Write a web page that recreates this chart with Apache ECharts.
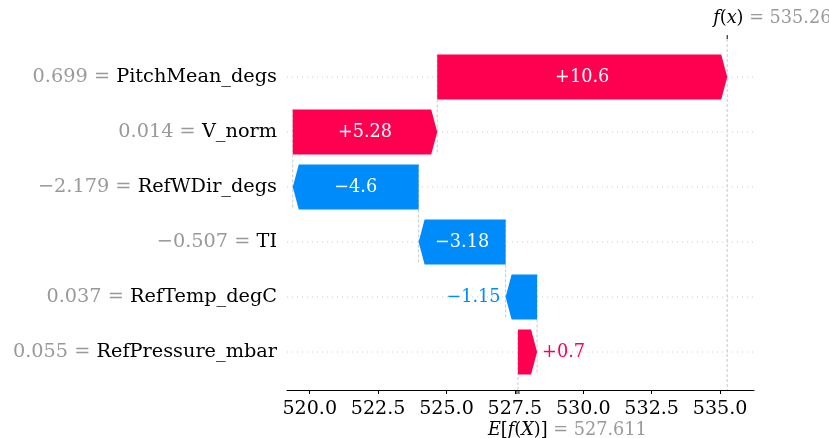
<!DOCTYPE html>
<html><head><meta charset="utf-8">
<script src="https://cdn.jsdelivr.net/npm/echarts@6/dist/echarts.min.js"></script>
<style>html,body{margin:0;padding:0;background:#fff}#c{width:829px;height:438px}</style>
</head><body><div id="c"></div>
<script>
// ---- data ----
const featureNames = ['PitchMean_degs', 'V_norm', 'RefWDir_degs', 'TI', 'RefTemp_degC', 'RefPressure_mbar'];
const featureValues = ['0.699', '0.014', '\u22122.179', '\u22120.507', '0.037', '0.055'];
const shapValues = [10.6, 5.28, -4.6, -3.18, -1.15, 0.7];
const baseValue = 527.611;
const fxValue = 535.26;
const xTicks = [520.0, 522.5, 525.0, 527.5, 530.0, 532.5, 535.0];

// ---- derived cumulative positions (bottom row first) ----
const starts = new Array(shapValues.length), ends = new Array(shapValues.length);
let run = baseValue;
for (let i = shapValues.length - 1; i >= 0; i--) { starts[i] = run; ends[i] = run + shapValues[i]; run = ends[i]; }

const FONT = 'DejaVu Serif';
const RED = '#ff0051', BLUE = '#008bfb';
const BAR_FS = 17.7, TICK_FS = 19.1, LAB_FS = 19.3, NOTE_FS = 17.7;
const cv = document.createElement('canvas').getContext('2d');
cv.font = BAR_FS + 'px "' + FONT + '"';
function measure(t) { return cv.measureText(t).width; }
const nRows = featureNames.length;
const rowIdx = featureNames.map((_, i) => i);

const chart = echarts.init(document.getElementById('c'), null, { renderer: 'canvas' });

function renderGuides(params, api) {
  const cs = params.coordSys;
  const children = [];
  for (let i = 0; i < nRows; i++) {
    const y = api.coord([0, i])[1];
    children.push({ type: 'line', shape: { x1: cs.x, y1: y, x2: cs.x + cs.width, y2: y },
      style: { stroke: '#cccccc', lineWidth: 1, lineDash: [1, 4] } });
  }
  for (let i = 0; i < nRows - 1; i++) {
    const x = starts[i];
    const a = api.coord([x, i - 0.41]), b = api.coord([x, i + 1 + 0.41]);
    children.push({ type: 'line', shape: { x1: a[0], y1: a[1], x2: b[0], y2: b[1] },
      style: { stroke: '#bbbbbb', lineWidth: 0.8, lineDash: [3, 2] } });
  }
  const bx = api.coord([baseValue, 0])[0];
  children.push({ type: 'line', shape: { x1: bx, y1: cs.y + cs.height, x2: bx, y2: cs.y + cs.height * (1 - 1 / nRows) },
    style: { stroke: '#bbbbbb', lineWidth: 0.8, lineDash: [3, 2] } });
  const fx = api.coord([fxValue, 0])[0];
  children.push({ type: 'line', shape: { x1: fx, y1: cs.y, x2: fx, y2: cs.y + cs.height },
    style: { stroke: '#bbbbbb', lineWidth: 0.8, lineDash: [3, 2] } });
  return { type: 'group', children };
}

function renderBar(params, api) {
  const i = api.value(0), s = api.value(1), e = api.value(2);
  const p0 = api.coord([s, i]), p1 = api.coord([e, i]);
  const cy = p0[1];
  const half = Math.abs(api.coord([s, i + 0.41])[1] - cy);
  const dir = e >= s ? 1 : -1;
  const w = Math.abs(p1[0] - p0[0]);
  const head = Math.min(6, w);
  const xs = p0[0], xe = p1[0], xb = xe - dir * head;
  const pts = [[xs, cy - half], [xb, cy - half], [xe, cy], [xb, cy + half], [xs, cy + half]];
  const color = dir > 0 ? RED : BLUE;
  const v = shapValues[i];
  const txt = (v > 0 ? '+' : '\u2212') + Math.abs(v);
  const tw = measure(txt);
  let tstyle;
  if (tw + 10 < w) {
    tstyle = { x: (xs + xe) / 2, y: cy, text: txt, fill: '#ffffff', align: 'center', verticalAlign: 'middle', fontFamily: FONT, fontSize: BAR_FS };
  } else {
    tstyle = { x: xe + dir * 5, y: cy, text: txt, fill: color, align: dir > 0 ? 'left' : 'right', verticalAlign: 'middle', fontFamily: FONT, fontSize: BAR_FS };
  }
  return { type: 'group', children: [
    { type: 'polygon', shape: { points: pts }, style: { fill: color } },
    { type: 'text', style: tstyle }
  ] };
}

function renderNotes(params, api) {
  const cs = params.coordSys;
  const fx = api.coord([fxValue, 0])[0];
  const bx = api.coord([baseValue, 0])[0];
  const yb = cs.y + cs.height;
  const rich = {
    i: { fontFamily: FONT, fontStyle: 'italic', fontSize: NOTE_FS, fill: '#000' },
    r: { fontFamily: FONT, fontSize: NOTE_FS, fill: '#000' },
    g: { fontFamily: FONT, fontSize: NOTE_FS, fill: '#999999' }
  };
  return { type: 'group', children: [
    { type: 'line', shape: { x1: fx, y1: cs.y, x2: fx, y2: cs.y - 4 }, style: { stroke: '#000', lineWidth: 1 } },
    { type: 'line', shape: { x1: bx - 1, y1: yb, x2: bx - 1, y2: yb + 4 }, style: { stroke: '#000', lineWidth: 1 } },
    { type: 'line', shape: { x1: bx + 1, y1: yb, x2: bx + 1, y2: yb + 4 }, style: { stroke: '#000', lineWidth: 1 } },
    { type: 'text', style: { x: fx - 14, y: 18, align: 'left', verticalAlign: 'middle',
      text: '{i|f}{r|(}{i|x}{r|)}{g| = ' + fxValue.toFixed(2) + '}', rich } },
    { type: 'text', style: { x: bx - 30, y: 430, align: 'left', verticalAlign: 'middle',
      text: '{i|E}{r|[}{i|f}{r|(}{i|X}{r|)]}{g| = ' + baseValue.toFixed(3) + '}', rich } }
  ] };
}

chart.setOption({
  animation: false,
  backgroundColor: '#ffffff',
  grid: { left: 287, right: 75, top: 39, bottom: 48, containLabel: false },
  xAxis: {
    type: 'value', min: 519.17, max: 536.24,
    axisLine: { show: true, onZero: false, lineStyle: { color: '#000', width: 1 } },
    axisTick: { show: true, customValues: xTicks, length: 4, lineStyle: { color: '#000' } },
    axisLabel: { customValues: xTicks, formatter: v => v.toFixed(1), fontFamily: FONT, fontSize: TICK_FS, color: '#000', margin: 10 },
    splitLine: { show: false }
  },
  yAxis: {
    type: 'value', inverse: true, min: -0.69, max: nRows - 1 + 0.69,
    axisLine: { show: false }, axisTick: { show: false }, splitLine: { show: false },
    axisLabel: {
      customValues: rowIdx, margin: 10,
      formatter: v => '{g|' + featureValues[v] + ' = }{n|' + featureNames[v] + '}',
      rich: {
        g: { fontFamily: FONT, fontSize: LAB_FS, color: '#999999' },
        n: { fontFamily: FONT, fontSize: LAB_FS, color: '#000000' }
      }
    }
  },
  series: [
    { type: 'custom', z: 1, silent: true, renderItem: renderGuides, data: [[0]], encode: { x: -1, y: -1 } },
    { type: 'custom', z: 2, silent: true, renderItem: renderBar,
      data: shapValues.map((v, i) => [i, starts[i], ends[i]]), encode: { x: [1, 2], y: 0 } },
    { type: 'custom', z: 3, silent: true, renderItem: renderNotes, data: [[0]], encode: { x: -1, y: -1 } }
  ]
});
</script></body></html>
